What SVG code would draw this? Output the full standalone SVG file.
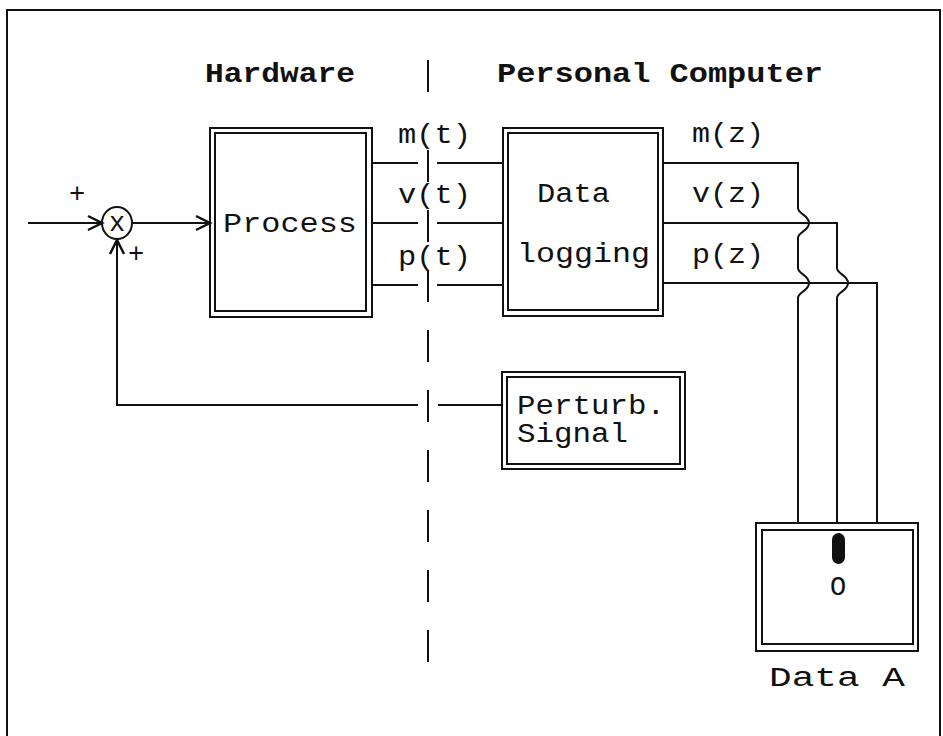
<svg xmlns="http://www.w3.org/2000/svg" width="943" height="736" viewBox="0 0 943 736">
<style>
.ln{fill:none;stroke:#111;stroke-width:2}
.bx{fill:none;stroke:#111;stroke-width:2}
.t{font-family:"Liberation Mono","DejaVu Sans Mono",monospace;font-size:27px;fill:#111}
.tb{font-family:"Liberation Mono","DejaVu Sans Mono",monospace;font-size:27px;font-weight:bold;fill:#111}
</style>
<defs>
<marker id="arr" markerUnits="userSpaceOnUse" markerWidth="20" markerHeight="20" refX="16" refY="8" orient="auto" viewBox="0 0 20 16">
<path d="M2,1 L16,8 L2,15" fill="none" stroke="#111" stroke-width="2.5"/>
</marker>
</defs>
<rect width="943" height="736" fill="#fff"/>
<path class="ln" d="M7,740 V10 H940 V740"/>
<g id="titles">
<text class="tb" x="205" y="82" textLength="150" lengthAdjust="spacingAndGlyphs">Hardware</text>
<text class="tb" x="497" y="82" textLength="326" lengthAdjust="spacingAndGlyphs">Personal Computer</text>
</g>
<g id="divider">
<line class="ln" x1="428" y1="60" x2="428" y2="92"/>
<line class="ln" x1="428" y1="150" x2="428" y2="664" stroke-dasharray="32 28"/>
</g>
<g id="connectors">
<line class="ln" x1="28" y1="223" x2="102" y2="223" marker-end="url(#arr)"/>
<line class="ln" x1="132" y1="223" x2="210" y2="223" marker-end="url(#arr)"/>
<polyline class="ln" points="502,405 438,405"/>
<polyline class="ln" points="418,405 117,405 117,240" marker-end="url(#arr)"/>
<line class="ln" x1="372" y1="163" x2="418" y2="163"/>
<line class="ln" x1="437" y1="163" x2="503" y2="163"/>
<line class="ln" x1="372" y1="223" x2="418" y2="223"/>
<line class="ln" x1="437" y1="223" x2="503" y2="223"/>
<line class="ln" x1="372" y1="285" x2="418" y2="285"/>
<line class="ln" x1="437" y1="285" x2="503" y2="285"/>
<path class="ln" d="M663,163 H798 V208 C798,214 809,215 809,223 C809,231 798,232 798,238 V268 C798,274 809,275 809,283 C809,291 798,292 798,298 V523"/>
<path class="ln" d="M663,223 H837 V268 C837,274 848,275 848,283 C848,291 837,292 837,298 V523"/>
<path class="ln" d="M663,283 H877 V523"/>
</g>
<g id="sum">
<ellipse class="ln" cx="117" cy="223" rx="15" ry="16"/>
<text class="t" x="117" y="231" text-anchor="middle" font-size="22">x</text>
<text class="t" x="77" y="202" text-anchor="middle" font-size="24">+</text>
<text class="t" x="136" y="262" text-anchor="middle" font-size="24">+</text>
</g>
<g id="process">
<rect class="bx" x="210" y="128" width="162" height="189"/>
<rect class="bx" x="215" y="133" width="151" height="178"/>
<text class="t" x="223" y="232" textLength="134" lengthAdjust="spacingAndGlyphs">Process</text>
</g>
<g id="signals-t">
<text class="t" x="398" y="143" textLength="73" lengthAdjust="spacingAndGlyphs">m(t)</text>
<text class="t" x="398" y="203" textLength="73" lengthAdjust="spacingAndGlyphs">v(t)</text>
<text class="t" x="398" y="265" textLength="73" lengthAdjust="spacingAndGlyphs">p(t)</text>
</g>
<g id="datalogging">
<rect class="bx" x="503" y="128" width="160" height="188"/>
<rect class="bx" x="508" y="133" width="150" height="177"/>
<text class="t" x="537" y="202" textLength="73" lengthAdjust="spacingAndGlyphs">Data</text>
<text class="t" x="517" y="262" textLength="133" lengthAdjust="spacingAndGlyphs">logging</text>
</g>
<g id="signals-z">
<text class="t" x="692" y="142" textLength="72" lengthAdjust="spacingAndGlyphs">m(z)</text>
<text class="t" x="692" y="202" textLength="72" lengthAdjust="spacingAndGlyphs">v(z)</text>
<text class="t" x="692" y="263" textLength="72" lengthAdjust="spacingAndGlyphs">p(z)</text>
</g>
<g id="perturb">
<rect class="bx" x="502" y="372" width="183" height="97"/>
<rect class="bx" x="507" y="377" width="173" height="87"/>
<text class="t" x="517" y="414" textLength="148" lengthAdjust="spacingAndGlyphs">Perturb.</text>
<text class="t" x="517" y="442" textLength="111" lengthAdjust="spacingAndGlyphs">Signal</text>
</g>
<g id="dataA">
<rect class="bx" x="756" y="523" width="162" height="128"/>
<rect class="bx" x="762" y="530" width="151" height="114"/>
<rect x="832" y="533" width="13" height="31" rx="6.5" fill="#111"/>
<text class="t" x="838" y="595" text-anchor="middle" font-size="24">O</text>
<text class="t" x="769" y="686" textLength="136" lengthAdjust="spacingAndGlyphs">Data  A</text>
</g>
</svg>
